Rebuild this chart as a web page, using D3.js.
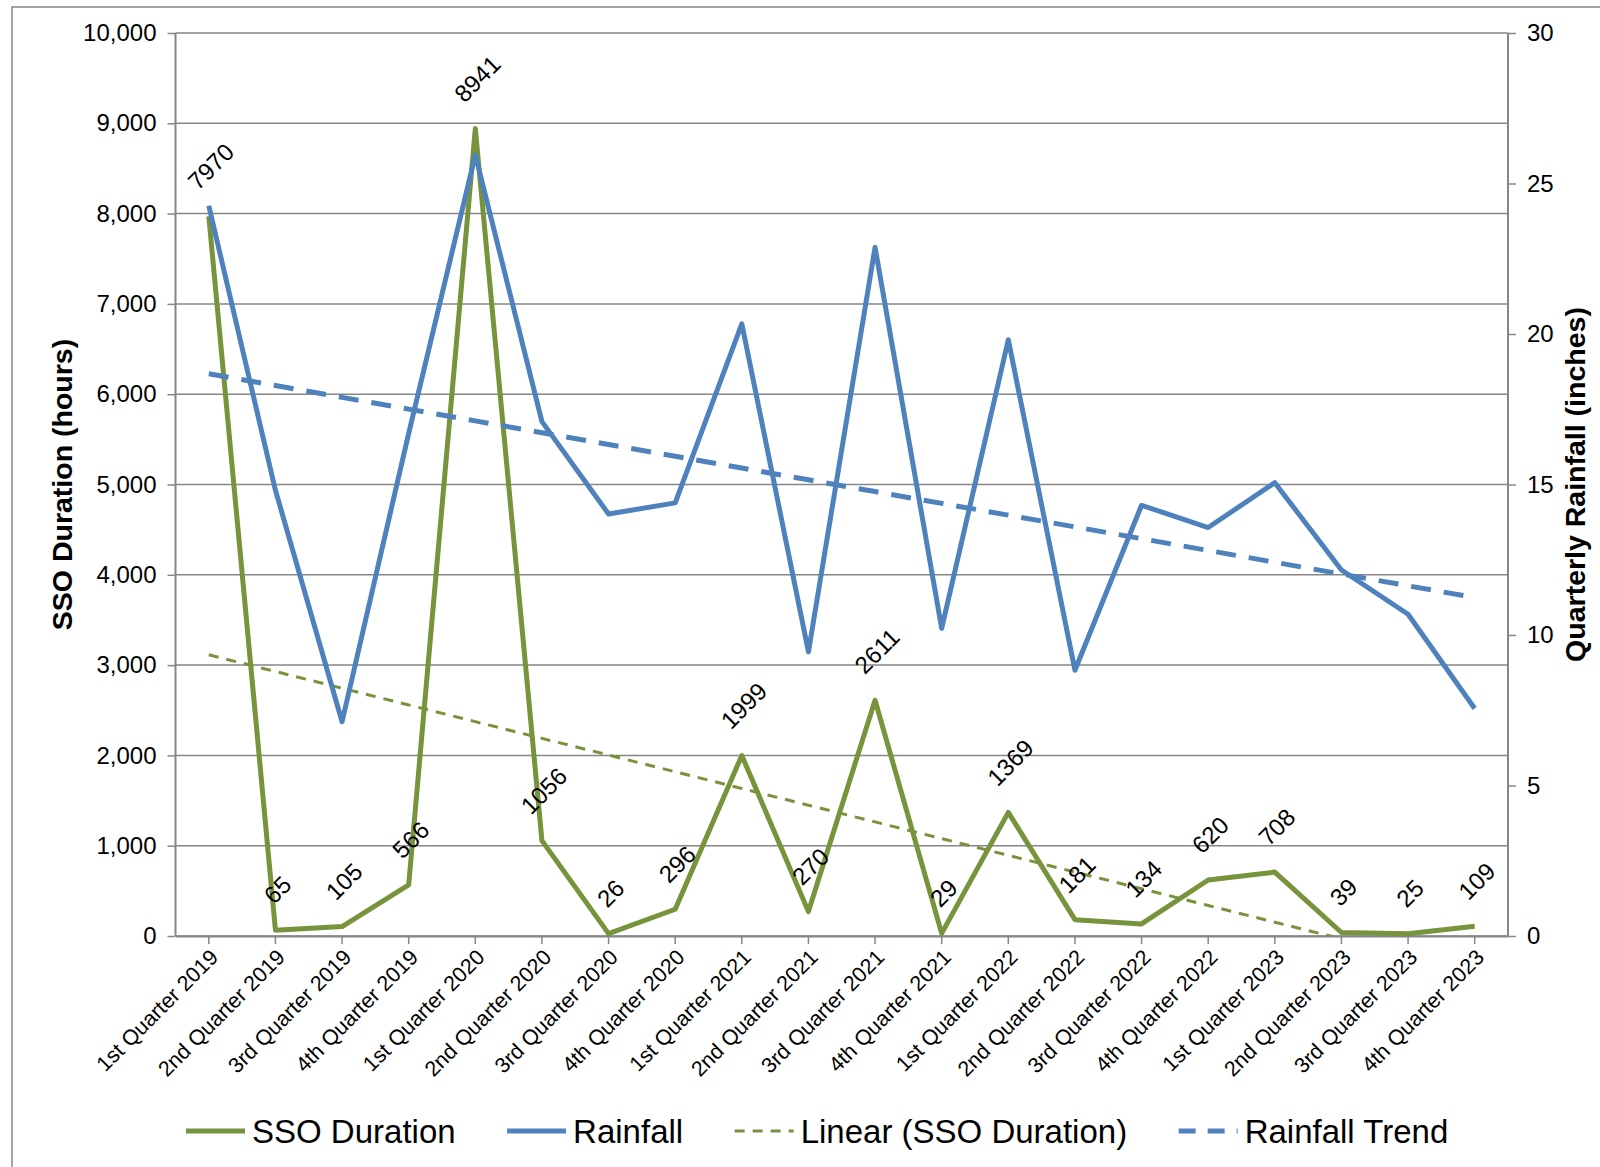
<!DOCTYPE html>
<html lang="en">
  <head>
    <meta charset="utf-8" />
    <title>SSO Duration and Rainfall by Quarter</title>
    <script src="https://cdn.jsdelivr.net/npm/d3@7/dist/d3.min.js"></script>
    <style>
      body { margin: 0; background: #fff; }
      text { font-family: "Liberation Sans", Arial, sans-serif; fill: #000; }
    </style>
  </head>
  <body>
    <script>
      var quarters = ["1st Quarter 2019", "2nd Quarter 2019", "3rd Quarter 2019", "4th Quarter 2019",
                      "1st Quarter 2020", "2nd Quarter 2020", "3rd Quarter 2020", "4th Quarter 2020",
                      "1st Quarter 2021", "2nd Quarter 2021", "3rd Quarter 2021", "4th Quarter 2021",
                      "1st Quarter 2022", "2nd Quarter 2022", "3rd Quarter 2022", "4th Quarter 2022",
                      "1st Quarter 2023", "2nd Quarter 2023", "3rd Quarter 2023", "4th Quarter 2023"]
      var ssoHours = [7970, 65, 105, 566, 8941, 1056, 26, 296, 1999, 270,
                      2611, 29, 1369, 181, 134, 620, 708, 39, 25, 109]
      var rainfall = [24.26, 14.81, 7.12, 16.7, 25.95, 17.09, 14.02, 14.39, 20.34, 9.44,
                      22.88, 10.22, 19.81, 8.83, 14.31, 13.57, 15.06, 12.16, 10.69, 7.56]
      var leftTicks = [0, 1000, 2000, 3000, 4000, 5000, 6000, 7000, 8000, 9000, 10000]
      var rightTicks = [0, 5, 10, 15, 20, 25, 30]
      var legendNames = ["SSO Duration", "Rainfall", "Linear (SSO Duration)", "Rainfall Trend"]

      var green = "#77933C", blue = "#4F81BD", grey = "#868686"

      // least squares line over category index 1..n (what Excel's linear trendline does)
      function linearFit(vals) {
        var n = vals.length, mx = (n + 1) / 2, my = d3.mean(vals)
        var sxy = 0, sxx = 0
        vals.forEach(function(v, i) { sxy += (i + 1 - mx) * (v - my); sxx += (i + 1 - mx) * (i + 1 - mx) })
        var b = sxy / sxx
        return vals.map(function(v, i) { return my + b * (i + 1 - mx) })
      }
      var ssoTrend = linearFit(ssoHours)
      var rainTrend = linearFit(rainfall)

      var margin = {top: 33, right: 92, bottom: 231, left: 175.5}
      var W = 1600, H = 1167
      var width = W - margin.left - margin.right
      var height = H - margin.top - margin.bottom

      var svg = d3.select("body").append("svg")
                  .attr("width", W).attr("height", H)

      svg.append("rect")
         .attr("x", 12).attr("y", 7).attr("width", 1700).attr("height", 1300)
         .attr("fill", "none").attr("stroke", grey).attr("stroke-width", 1.5)

      var g = svg.append("g").attr("transform", "translate(" + margin.left + "," + margin.top + ")")

      var x = d3.scaleBand().domain(quarters).range([0, width])
      var xc = function(i) { return x(quarters[i]) + x.bandwidth() / 2 }
      var yL = d3.scaleLinear().domain([0, 10000]).range([height, 0])
      var yR = d3.scaleLinear().domain([0, 30]).range([height, 0])

      // gridlines
      g.append("g").selectAll("line").data(leftTicks).enter().append("line")
        .attr("x1", 0).attr("x2", width)
        .attr("y1", function(d) { return yL(d) }).attr("y2", function(d) { return yL(d) })
        .attr("stroke", grey).attr("stroke-width", 1.5)

      // left axis
      var axL = g.append("g")
        .call(d3.axisLeft(yL).tickValues(leftTicks).tickSize(8).tickPadding(11).tickFormat(d3.format(",")))
      axL.selectAll("text").style("font-size", "24px")

      // right axis
      var axR = g.append("g").attr("transform", "translate(" + width + ",0)")
        .call(d3.axisRight(yR).tickValues(rightTicks).tickSize(8).tickPadding(11))
      axR.selectAll("text").style("font-size", "24px")

      // bottom axis, ticks at category centres
      var axB = g.append("g").attr("transform", "translate(0," + height + ")")
        .call(d3.axisBottom(x).tickSize(8).tickSizeOuter(0).tickPadding(0))
      axB.selectAll(".tick text")
        .style("font-size", "21.5px")
        .attr("text-anchor", "end")
        .attr("dy", null)
        .attr("transform", "translate(5,17) rotate(-45)")

      ;[axL, axR, axB].forEach(function(a) {
        a.selectAll("path, line").attr("stroke", grey).attr("stroke-width", 1.5)
        a.select(".domain").attr("stroke-width", 2)
      })
      axL.select(".domain").attr("d", "M0," + height + "V0")
      axR.select(".domain").attr("d", "M0," + height + "V0")

      // axis titles
      svg.append("text")
         .attr("transform", "translate(72," + (margin.top + height / 2) + ") rotate(-90)")
         .attr("text-anchor", "middle")
         .style("font-size", "28.5px").style("font-weight", "bold")
         .text("SSO Duration (hours)")
      svg.append("text")
         .attr("transform", "translate(1585," + (margin.top + height / 2) + ") rotate(-90)")
         .attr("text-anchor", "middle")
         .style("font-size", "28.5px").style("font-weight", "bold")
         .text("Quarterly Rainfall (inches)")

      svg.append("clipPath").attr("id", "plotclip")
         .append("rect").attr("x", 0).attr("y", -5).attr("width", width).attr("height", height + 5)

      var plot = g.append("g").attr("clip-path", "url(#plotclip)")

      var lineL = d3.line().x(function(d, i) { return xc(i) }).y(function(d) { return yL(d) })
      var lineR = d3.line().x(function(d, i) { return xc(i) }).y(function(d) { return yR(d) })

      plot.append("path").datum(ssoHours).attr("d", lineL)
          .attr("fill", "none").attr("stroke", green).attr("stroke-width", 5).attr("stroke-linejoin", "round")
      plot.append("path").datum(ssoTrend).attr("d", lineL)
          .attr("fill", "none").attr("stroke", green).attr("stroke-width", 3).attr("stroke-dasharray", "10,8")
      plot.append("path").datum(rainfall).attr("d", lineR)
          .attr("fill", "none").attr("stroke", blue).attr("stroke-width", 5).attr("stroke-linejoin", "round")
      plot.append("path").datum(rainTrend).attr("d", lineR)
          .attr("fill", "none").attr("stroke", blue).attr("stroke-width", 5).attr("stroke-dasharray", "20,13")

      // data labels, rotated -45 and sat above each point
      g.append("g").selectAll("text").data(ssoHours).enter().append("text")
        .style("font-size", "24px")
        .attr("text-anchor", "middle")
        .attr("dominant-baseline", "central")
        .text(function(d) { return d })
        .each(function(d, i) {
          var w = this.getComputedTextLength()
          var half = (w + 17) * 0.707 / 2
          var cx = xc(i) + 2, cy = yL(d) - 25 - half
          d3.select(this).attr("x", cx).attr("y", cy)
            .attr("transform", "rotate(-45," + cx + "," + cy + ")")
        })

      // legend
      var legend = svg.append("g").attr("transform", "translate(0,1131)")
      var styles = [
        {color: green, w: 5, dash: null},
        {color: blue, w: 5, dash: null},
        {color: green, w: 3, dash: "10,8"},
        {color: blue, w: 5, dash: "17,12"}
      ]
      var lx = 186
      legendNames.forEach(function(name, i) {
        legend.append("line")
          .attr("x1", lx).attr("x2", lx + 59).attr("y1", 0).attr("y2", 0)
          .attr("stroke", styles[i].color).attr("stroke-width", styles[i].w)
          .attr("stroke-dasharray", styles[i].dash)
        var t = legend.append("text")
          .attr("x", lx + 66).attr("y", 12)
          .style("font-size", "33px")
          .text(name)
        lx += 66 + t.node().getComputedTextLength() + 51.5
      })
    </script>
  </body>
</html>
